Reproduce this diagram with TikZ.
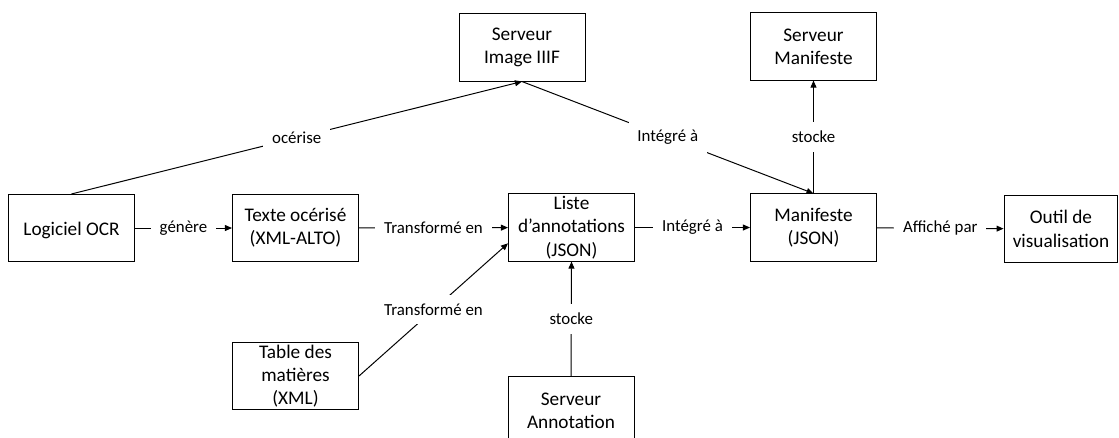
\documentclass[tikz,border=0pt]{standalone}
\usepackage{fontspec}
\setmainfont{Carlito}
\usetikzlibrary{arrows.meta}
\newcommand\hautligne{\rule{0pt}{12.5pt}}

\begin{document}
\begin{tikzpicture}[x=0.025cm,y=-0.025cm,line width=0.7pt,>={Triangle[length=5pt,width=4.2pt]},
    boite/.style={draw,align=center,minimum width=89.6pt,minimum height=47.7pt,inner sep=0pt,
      font=\fontsize{13.7}{16.6}\selectfont,execute at begin node=\hautligne},
    etiq/.style={fill=white,inner sep=6.3pt,font=\fontsize{12}{14}\selectfont}]
  \clip (0,0) rectangle (1119,437);
  % boites
  \node[boite] (log) at (71.5,228) {Logiciel OCR};
  \node[boite] (texte) at (295.5,228) {Texte océrisé\\(XML-ALTO)};
  \node[boite,inner ysep=-0.5pt] (liste) at (571.5,227.5) {Liste\\d’annotations\\(JSON)};
  \node[boite] (manif) at (813.5,227.5) {Manifeste\\(JSON)};
  \node[boite,minimum width=81pt] (outil) at (1061,229) {Outil de\\visualisation};
  \node[boite] (iiif) at (522,47.5) {Serveur\\Image IIIF};
  \node[boite] (srvmanif) at (813.5,46.5) {Serveur\\Manifeste};
  \node[boite,inner ysep=-0.5pt] (table) at (295.5,376) {Table des\\matières\\(XML)};
  \node[boite] (srvannot) at (571,410.5) {Serveur\\Annotation};
  % chaine principale
  \foreach \a/\b/\t in {log/texte/génère,texte/liste/Transformé en,liste/manif/Intégré à,manif/outil/Affiché par}
    \draw[->] (\a) -- (\b) node[etiq,midway]{\t};
  % autres liens
  \draw[->] (log.north) -- (iiif.south) node[etiq,midway]{océrise};
  \draw[->] (iiif.south) -- (manif.north) node[etiq,midway]{Intégré à};
  \draw[->] (manif.north) -- (srvmanif.south) node[etiq,midway]{stocke};
  \draw[->] (table.east) -- (liste.194) node[etiq,midway]{Transformé en};
  \draw[->] (srvannot.north) -- (liste.south) node[etiq,midway]{stocke};
\end{tikzpicture}
\end{document}
